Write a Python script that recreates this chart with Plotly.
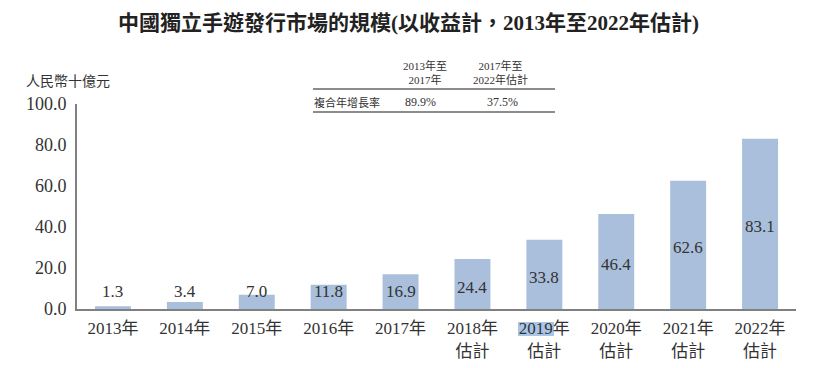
import plotly.graph_objects as go

categories = ["2013年", "2014年", "2015年", "2016年", "2017年",
              "2018年<br>估計", "2019年<br>估計", "2020年<br>估計", "2021年<br>估計", "2022年<br>估計"]
values = [1.3, 3.4, 7.0, 11.8, 16.9, 24.4, 33.8, 46.4, 62.6, 83.1]
y_ticks = [0, 20, 40, 60, 80, 100]
title_text = "<b>中國獨立手遊發行市場的規模(以收益計，2013年至2022年估計)</b>"
unit_text = "人民幣十億元"
cagr_headers = ["2013年至<br>2017年", "2017年至<br>2022年估計"]
cagr_label = "複合年增長率"
cagr_values = ["89.9%", "37.5%"]

# page body has an 8px margin; figure sized to fit the window exactly
OFF = 8
W, H = 831 - 2 * OFF, 368 - 2 * OFF
# plot area in page pixels: x 77..796, y 104..309
L, T = 77 - OFF, 104 - OFF
R, B = W - (796 - OFF), H - (309 - OFF)
PW, PH = W - L - R, H - T - B

def px(x):
    return (x - OFF - L) / PW

def py(y):
    return (H - B - (y - OFF)) / PH

FONT = "Liberation Serif, Noto Sans CJK TC, serif"
TXT = "#333333"
BAR = "#a9bfdc"

fig = go.Figure()
fig.add_trace(go.Bar(x=categories, y=values, marker=dict(color=BAR, line=dict(width=0)),
                     hoverinfo="skip"))

annotations = []
for c, v in zip(categories, values):
    annotations.append(dict(x=c, y=max(v / 2 - 1.5, 8.3), xref="x", yref="y", text=f"{v:.1f}",
                            showarrow=False, font=dict(family=FONT, size=17, color=TXT),
                            xanchor="center", yanchor="middle"))

annotations.append(dict(x=px(408), y=py(23), xref="paper", yref="paper", text=title_text,
                        showarrow=False, font=dict(family=FONT, size=21, color="#222222"),
                        xanchor="center", yanchor="middle"))
annotations.append(dict(x=px(24), y=py(82), xref="paper", yref="paper", text=unit_text,
                        showarrow=False, font=dict(family=FONT, size=14, color=TXT),
                        xanchor="left", yanchor="middle"))
for hx, h in zip([425, 500], cagr_headers):
    annotations.append(dict(x=px(hx), y=py(72), xref="paper", yref="paper", text=h,
                            showarrow=False, font=dict(family=FONT, size=11, color=TXT),
                            xanchor="center", yanchor="middle"))
annotations.append(dict(x=px(312), y=py(102), xref="paper", yref="paper", text=cagr_label,
                        showarrow=False, font=dict(family=FONT, size=11, color=TXT),
                        xanchor="left", yanchor="middle"))
for vx, v in zip([420, 502], cagr_values):
    annotations.append(dict(x=px(vx), y=py(102), xref="paper", yref="paper", text=v,
                            showarrow=False, font=dict(family=FONT, size=12, color=TXT),
                            xanchor="center", yanchor="middle"))

shapes = []
for ly in [89, 112]:
    shapes.append(dict(type="line", xref="paper", yref="paper", x0=px(313), x1=px(555),
                       y0=py(ly), y1=py(ly), line=dict(color="#666666", width=1.5)))
shapes.append(dict(type="rect", xref="paper", yref="paper", x0=px(518), x1=px(554),
                   y0=py(336), y1=py(322), fillcolor="#a9c6e6", line=dict(width=0), layer="below"))

fig.update_layout(
    width=W, height=H,
    margin=dict(l=L, r=R, t=T, b=B, autoexpand=False),
    paper_bgcolor="white", plot_bgcolor="white",
    showlegend=False, bargap=0.5,
    annotations=annotations, shapes=shapes,
    font=dict(family=FONT, size=17, color=TXT),
)
fig.update_xaxes(showline=True, linecolor="#808080", linewidth=2, showgrid=False,
                 ticks="", ticklabelstandoff=3, automargin=False,
                 tickfont=dict(family=FONT, size=17, color=TXT), fixedrange=True)
fig.update_yaxes(range=[0, 100], tickvals=y_ticks, ticktext=[f"{t:.1f}" for t in y_ticks],
                 showline=True, linecolor="#808080", linewidth=2, showgrid=False, zeroline=False,
                 ticks="", ticklabelstandoff=5, automargin=False,
                 tickfont=dict(family=FONT, size=18, color=TXT), fixedrange=True)

fig.write_html("out.html")
